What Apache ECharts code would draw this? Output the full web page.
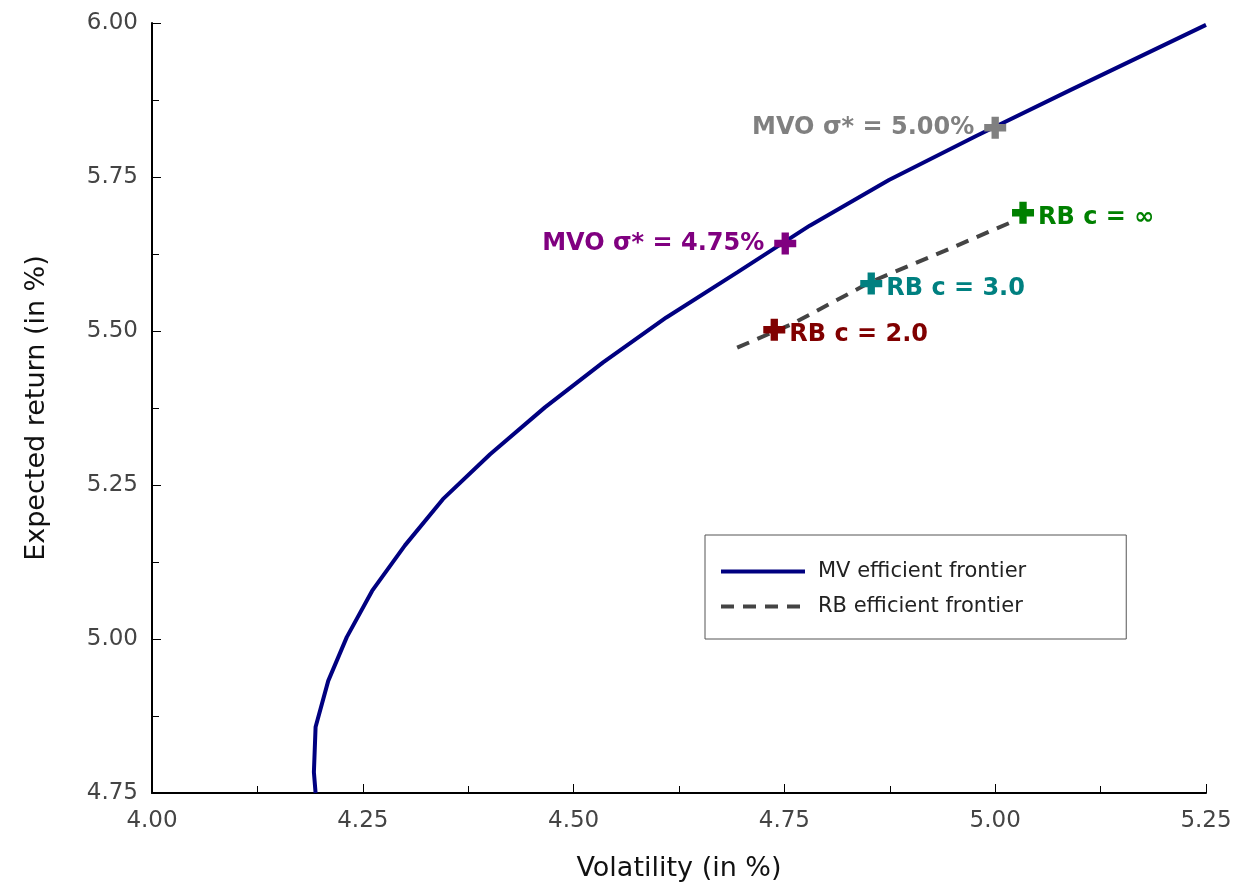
<!DOCTYPE html>
<html>
<head>
<meta charset="utf-8">
<script src="https://cdn.jsdelivr.net/npm/echarts@6/dist/echarts.min.js"></script>
<style>
  html, body { margin: 0; padding: 0; background: #fff; }
  #main { width: 1252px; height: 887px; }
</style>
</head>
<body>
<div id="main"></div>
<script>
// MV efficient frontier (volatility, expected return) in %
const mvVol = [4.194, 4.192, 4.194, 4.209, 4.231, 4.261, 4.300, 4.345, 4.401, 4.466, 4.535, 4.610, 4.695, 4.780, 4.874, 4.978, 5.089, 5.250];
const mvRet = [4.750, 4.784, 4.857, 4.932, 5.003, 5.078, 5.152, 5.227, 5.300, 5.376, 5.449, 5.522, 5.596, 5.671, 5.745, 5.817, 5.891, 5.997];

// RB efficient frontier
const rbVol = [4.694, 4.760, 4.853, 4.940, 5.018];
const rbRet = [5.473, 5.512, 5.580, 5.630, 5.676];

// highlighted portfolios
const pointNames = ['MVO σ* = 5.00%', 'MVO σ* = 4.75%', 'RB c = ∞', 'RB c = 3.0', 'RB c = 2.0'];
const pointVol = [5.000, 4.751, 5.033, 4.853, 4.738];
const pointRet = [5.830, 5.642, 5.692, 5.577, 5.502];
const pointColors = ['#808080', '#800080', '#008000', '#008080', '#800000'];
const pointSide = ['left', 'left', 'right', 'right', 'right'];

const xTicks = ['4.00', '4.25', '4.50', '4.75', '5.00', '5.25'];
const yTicks = ['4.75', '5.00', '5.25', '5.50', '5.75', '6.00'];

const FONT = '"DejaVu Sans", sans-serif';
const plus = 'path://M4,0H8V4H12V8H8V12H4V8H0V4H4Z';

const chart = echarts.init(document.getElementById('main'));

const axisCommon = {
  type: 'value',
  interval: 0.25,
  nameLocation: 'middle',
  nameTextStyle: { fontFamily: FONT, fontSize: 27, color: '#111' },
  axisLine: { show: true, lineStyle: { color: '#000', width: 2 } },
  axisTick: { show: true, inside: true, length: 9, lineStyle: { color: '#000', width: 1 } },
  minorTick: { show: true, splitNumber: 2, length: 7, lineStyle: { color: '#000', width: 1 } },
  splitLine: { show: false },
  axisLabel: { fontFamily: FONT, fontSize: 23, color: '#444' }
};

const pointSeries = pointNames.map((name, i) => ({
  type: 'scatter',
  name: name,
  symbol: plus,
  symbolSize: 22,
  itemStyle: { color: pointColors[i], opacity: 1 },
  z: 5,
  data: [[pointVol[i], pointRet[i]]],
  label: {
    show: true,
    position: pointSide[i],
    distance: pointSide[i] === 'left' ? 10 : 4,
    offset: pointSide[i] === 'left' ? [0, 0] : [0, 5],
    formatter: name,
    fontFamily: FONT,
    fontWeight: 'bold',
    fontSize: 24,
    color: pointColors[i]
  }
}));

chart.setOption({
  animation: false,
  backgroundColor: '#fff',
  grid: { left: 152, right: 46, top: 23, bottom: 93 },
  xAxis: Object.assign({}, axisCommon, {
    min: 4.00, max: 5.25,
    name: 'Volatility (in %)',
    nameGap: 62,
    axisLabel: Object.assign({}, axisCommon.axisLabel, {
      margin: 17,
      formatter: v => xTicks.find(t => Math.abs(+t - v) < 1e-6) || ''
    })
  }),
  yAxis: Object.assign({}, axisCommon, {
    min: 4.75, max: 6.00,
    name: 'Expected return (in %)',
    nameGap: 102,
    axisLabel: Object.assign({}, axisCommon.axisLabel, {
      margin: 14,
      formatter: v => yTicks.find(t => Math.abs(+t - v) < 1e-6) || ''
    })
  }),
  legend: {
    orient: 'vertical',
    left: 705,
    top: 535,
    padding: [26, 100, 22, 14],
    itemGap: 14,
    itemWidth: 84,
    itemHeight: 20,
    backgroundColor: '#fff',
    borderColor: '#555',
    borderWidth: 1,
    borderRadius: 0,
    itemStyle: { opacity: 0 },
    lineStyle: { width: 4 },
    data: ['MV efficient frontier', 'RB efficient frontier'],
    textStyle: { fontFamily: FONT, fontSize: 21, color: '#222', padding: [0, 0, 0, 8] }
  },
  series: [
    {
      type: 'line',
      name: 'MV efficient frontier',
      showSymbol: false,
      symbol: 'none',
      lineStyle: { color: '#000080', width: 4 },
      itemStyle: { color: '#000080' },
      data: mvVol.map((v, i) => [v, mvRet[i]])
    },
    {
      type: 'line',
      name: 'RB efficient frontier',
      showSymbol: false,
      symbol: 'none',
      lineStyle: { color: '#444', width: 4, type: [13, 9] },
      itemStyle: { color: '#444' },
      data: rbVol.map((v, i) => [v, rbRet[i]])
    }
  ].concat(pointSeries)
});
</script>
</body>
</html>
